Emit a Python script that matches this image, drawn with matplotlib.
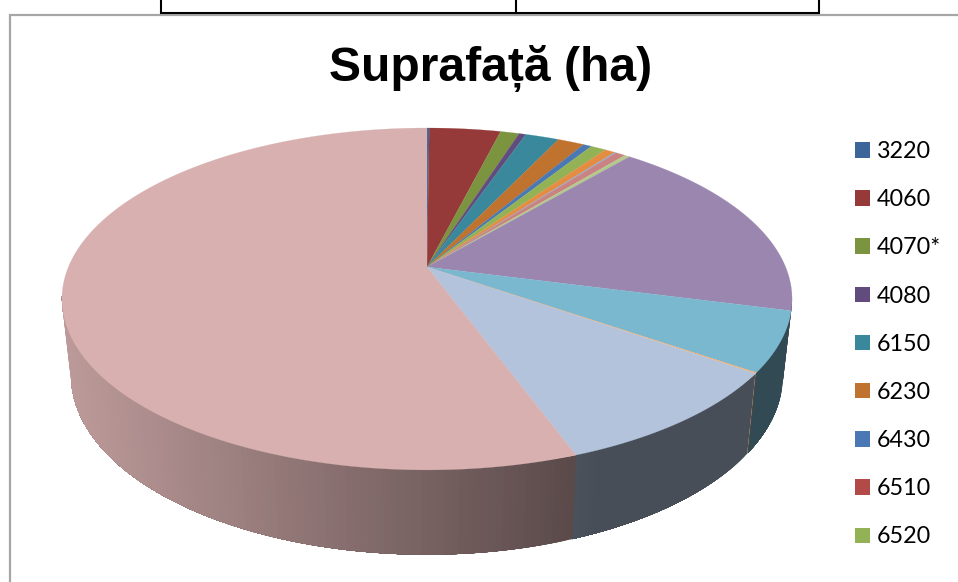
import numpy as np
import matplotlib
matplotlib.use('Agg')
import matplotlib.pyplot as plt
from matplotlib.colors import to_rgb
from matplotlib.patches import Patch

# only the first 9 categories are visible, the legend is cut off in the source
categories = ['3220', '4060', '4070*', '4080', '6150', '6230', '6430', '6510', '6520']
shares = [0.12, 3.78, 1.00, 0.36, 1.79, 1.42, 0.44, 0.0, 0.82,
          0.0, 0.0, 0.55, 0.08, 0.53, 0.28, 17.90, 5.62, 0.09, 9.66, 55.57]
colors = ['#3c6699', '#953a38', '#7c943f', '#624c7e', '#3a889c', '#c0722f', '#4a78b4', '#b24a48', '#93b255',
          '#9b86b0', '#7ab8cf', '#e48d42', '#7faee0', '#c98382', '#b4c98b',
          '#9b86b0', '#7ab8cf', '#f5ae72', '#b3c3db', '#d8b0b0']
title = 'Suprafață (ha)'

# pie geometry in image pixels, the pie is seen in perspective so the apex is above the ellipse centre
apex_x, apex_y = 427, 267
bottom_y = 342
a, k, c = 165.0, 0.187, 358.6
wall_sx, wall_sy = 0.975, 1.048


def project(theta):
    # angle clockwise from 12 o'clock -> offsets from apex on the top face
    u, v = np.sin(theta), np.cos(theta)
    w = 1 + k * v
    return c * u / w, a * v / w


def shade(x):
    # side wall gets darker from left to right, flat after the pink slice ends
    return float(np.clip(0.42 + (575 - x) * 0.00089, 0.40, 0.90))


fig = plt.figure(figsize=(9.58, 5.82), dpi=100)
ax = fig.add_axes([0, 0, 1, 1])
ax.set_xlim(0, 958)
ax.set_ylim(582, 0)
ax.axis('off')

# chart frame and the bit of the table above it
ax.plot([10.5, 10.5, 958], [582, 14.5, 14.5], color='#a6a6a6', lw=1.6, solid_joinstyle='miter')
ax.plot([161, 161, 819, 819], [0, 13, 13, 0], color='black', lw=1.5, solid_joinstyle='miter')
ax.plot([516, 516], [0, 13], color='black', lw=1.5)

edges = np.cumsum([0] + shares) / sum(shares) * 2 * np.pi

# side wall first, each band also covers the rest of its slice so no seams show between bands
wall_start, wall_end = np.radians(100), np.radians(260)
for i, col in enumerate(colors):
    t0, t1 = max(edges[i], wall_start), min(edges[i + 1], wall_end)
    if t1 <= t0:
        continue
    steps = np.linspace(t0, t1, max(2, int(np.degrees(t1 - t0)) + 2))
    for j in range(len(steps) - 1):
        tx, ty = project(steps[j:])
        top_x = apex_x + tx
        top_y = apex_y - ty
        bot_x = apex_x + tx * wall_sx
        bot_y = bottom_y - ty * wall_sy
        f = shade(top_x[:2].mean())
        rgb = tuple(f * ch for ch in to_rgb(col))
        ax.fill(np.r_[top_x, bot_x[::-1]], np.r_[top_y, bot_y[::-1]], color=rgb, lw=0)

# top face
for i, col in enumerate(colors):
    if shares[i] == 0:
        continue
    ts = np.linspace(edges[i], edges[i + 1], max(2, int(np.degrees(edges[i + 1] - edges[i])) * 2 + 2))
    tx, ty = project(ts)
    ax.fill(np.r_[apex_x, apex_x + tx], np.r_[apex_y, apex_y - ty], color=col, lw=0.15)

ax.text(491, 63, title, fontsize=34.6, fontweight='bold', family='Liberation Sans', ha='center', va='center_baseline')

handles = [Patch(facecolor=col, edgecolor='none') for col in colors[:len(categories)]]
ax.legend(handles, categories, loc='upper left', bbox_to_anchor=(855 / 958, 1 - 141 / 582),
          frameon=False, borderpad=0, borderaxespad=0, handlelength=0.64, handleheight=0.64,
          handletextpad=0.3, labelspacing=1.165, prop={'family': 'Lato', 'size': 16.8})

fig.savefig('out.png', dpi=100)
